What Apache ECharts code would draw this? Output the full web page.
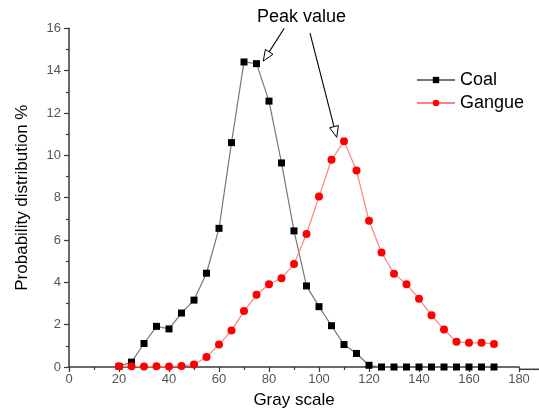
<!DOCTYPE html>
<html><head><meta charset="utf-8">
<script src="https://cdn.jsdelivr.net/npm/echarts@6/dist/echarts.min.js"></script>
<style>html,body{margin:0;padding:0;background:#fff}#c{width:539px;height:414px}</style>
</head><body><div id="c"></div>
<script>
const grayScale = [20,25,30,35,40,45,50,55,60,65,70,75,80,85,90,95,100,105,110,115,120,125,130,135,140,145,150,155,160,165,170];
const coal = [0.03,0.23,1.11,1.92,1.80,2.55,3.16,4.43,6.55,10.60,14.41,14.33,12.56,9.64,6.43,3.83,2.85,1.95,1.06,0.64,0.08,0,0,0,0,0,0,0,0,0,0];
const gangue = [0.03,0.03,0.02,0.03,0.02,0.05,0.12,0.47,1.06,1.72,2.64,3.41,3.91,4.19,4.86,6.28,8.05,9.79,10.66,9.28,6.91,5.41,4.41,3.91,3.22,2.44,1.77,1.19,1.14,1.14,1.09];
const xTicks = [0,20,40,60,80,100,120,140,160,180];
const yTicks = [0,2,4,6,8,10,12,14,16];
const annotationText = 'Peak value';
const arrowStart = [[86.1, 16.0], [96.4, 15.77]];
const arrowEnd = [[77.7, 14.45], [107.1, 10.85]];

const chart = echarts.init(document.getElementById('c'), null, {renderer:'canvas'});
const font = 'Liberation Sans, Arial, sans-serif';
const axisColor = '#3a3a3a';

function renderArrow(params, api) {
  const p1 = api.coord([api.value(0), api.value(1)]);
  const p2 = api.coord([api.value(2), api.value(3)]);
  const dx = p2[0] - p1[0], dy = p2[1] - p1[1];
  const len = Math.sqrt(dx*dx + dy*dy);
  const ux = dx/len, uy = dy/len;
  const hl = 11, hw = 4.5;
  const bx = p2[0] - ux*hl, by = p2[1] - uy*hl;
  return {
    type: 'group',
    children: [
      {type: 'line', shape: {x1: p1[0], y1: p1[1], x2: bx, y2: by},
       style: {stroke: '#000', lineWidth: 1.1}},
      {type: 'polygon', shape: {points: [[p2[0], p2[1]], [bx - uy*hw, by + ux*hw], [bx + uy*hw, by - ux*hw]]},
       style: {fill: '#fff', stroke: '#000', lineWidth: 1}}
    ]
  };
}

chart.setOption({
  animation: false,
  textStyle: {fontFamily: font},
  grid: {left: 69, right: 20, top: 28.3, bottom: 44.7, containLabel: false},
  legend: {
    orient: 'vertical', left: 411, top: 66,
    itemWidth: 38, itemHeight: 8, itemGap: 5,
    textStyle: {fontSize: 18, color: '#000', fontFamily: font},
    data: ['Coal', 'Gangue']
  },
  graphic: [
    {type: 'text', left: 257, top: 8, style: {text: annotationText, fontSize: 18, fill: '#000', fontFamily: font}},
    {type: 'line', shape: {x1: 519, y1: 369.3, x2: 539, y2: 369.3}, style: {stroke: axisColor, lineWidth: 1.5}}
  ],
  xAxis: {
    type: 'value', min: 0, max: 180, interval: 20,
    name: 'Gray scale', nameLocation: 'middle', nameGap: 25,
    nameTextStyle: {fontSize: 17, color: '#000', fontFamily: font},
    axisLine: {lineStyle: {color: axisColor, width: 1.5}, onZero: false},
    axisTick: {inside: false, length: 5, lineStyle: {color: axisColor, width: 1.2}},
    minorTick: {show: true, splitNumber: 2, length: 3, lineStyle: {color: axisColor, width: 1.2}},
    axisLabel: {fontSize: 13, color: '#555', margin: 6, fontFamily: font,
      formatter: v => xTicks.includes(v) ? String(v) : ''},
    splitLine: {show: false}
  },
  yAxis: {
    type: 'value', min: 0, max: 16, interval: 2,
    name: 'Probability distribution %', nameLocation: 'middle', nameGap: 38,
    nameTextStyle: {fontSize: 17, color: '#000', fontFamily: font},
    axisLine: {show: true, lineStyle: {color: axisColor, width: 1.5}},
    axisTick: {show: true, inside: false, length: 5, lineStyle: {color: axisColor, width: 1.2}},
    minorTick: {show: true, splitNumber: 2, length: 3, lineStyle: {color: axisColor, width: 1.2}},
    axisLabel: {fontSize: 13, color: '#555', margin: 8, fontFamily: font,
      formatter: v => yTicks.includes(v) ? String(v) : ''},
    splitLine: {show: false}
  },
  series: [
    {
      name: 'Coal', type: 'line', clip: false,
      data: grayScale.map((x, i) => [x, coal[i]]),
      symbol: 'rect', symbolSize: 7,
      itemStyle: {color: '#000'},
      lineStyle: {color: '#777', width: 1.2}
    },
    {
      name: 'Gangue', type: 'line', clip: false,
      data: grayScale.map((x, i) => [x, gangue[i]]),
      symbol: 'circle', symbolSize: 8,
      itemStyle: {color: '#ff0000'},
      lineStyle: {color: '#ff8080', width: 1.2}
    },
    {
      name: 'arrows', type: 'custom', silent: true, clip: false,
      renderItem: renderArrow,
      encode: {x: [0, 2], y: [1, 3]},
      data: arrowStart.map((s, i) => [s[0], s[1], arrowEnd[i][0], arrowEnd[i][1]]),
      z: 5
    }
  ]
});
</script></body></html>
